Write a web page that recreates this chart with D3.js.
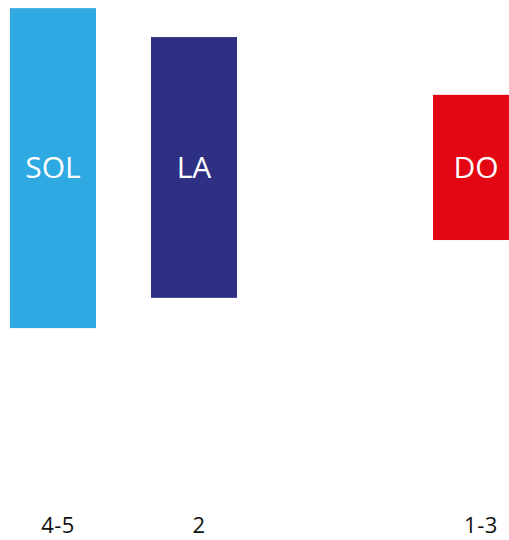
<!DOCTYPE html>
<html>
<head>
<meta charset="utf-8">
<script src="https://cdn.jsdelivr.net/npm/d3@7"></script>
<style>
  body { margin: 0; background: #fff; }
  svg { display: block; }
  .axis text { font-family: "Open Sans", sans-serif; font-size: 22px; fill: #111; }
  .barLabel { font-family: "Open Sans", sans-serif; font-size: 30px; fill: #fff; }
</style>
</head>
<body>
<svg></svg>
<script>
// categories (third slot has no bar)
var categories = ["4-5", "2", "", "1-3"]
var notes = ["SOL", "LA", "DO"]
var noteCats = ["4-5", "2", "1-3"]
var lows = [3.5, 12.4, 29.4]
var highs = [97.6, 89.1, 72.1]
var colors = ["#2ea9e1", "#2e3083", "#e30613"]

var screen = {width:509, height:540}

var svg = d3.select("svg")
    .attr("width", screen.width)
    .attr("height", screen.height)

var xScale = d3.scaleBand()
    .domain(categories)
    .range([10, 519])
    .paddingInner(0.39)
    .paddingOuter(0)

var yScale = d3.scaleLinear()
    .domain([0, 100])
    .range([340, 0])

var data = notes.map(function(n, i) {
    return {note: n, cat: noteCats[i], low: lows[i], high: highs[i], color: colors[i]}
})

var bars = svg.append("g").attr("id", "bars")
    .selectAll("g")
    .data(data)
    .enter()
    .append("g")

bars.append("rect")
    .attr("x", function(d) { return xScale(d.cat) })
    .attr("y", function(d) { return yScale(d.high) })
    .attr("width", xScale.bandwidth())
    .attr("height", function(d) { return yScale(d.low) - yScale(d.high) })
    .attr("fill", function(d) { return d.color })

// note names sit at the same height in every bar
bars.append("text")
    .attr("class", "barLabel")
    .attr("x", function(d) { return xScale(d.cat) + xScale.bandwidth() / 2 })
    .attr("y", 178)
    .attr("text-anchor", "middle")
    .text(function(d) { return d.note })

var xAxis = d3.axisBottom(xScale).tickSize(0).tickPadding(0)

var axisG = svg.append("g")
    .attr("class", "axis")
    .attr("transform", "translate(5,517)")
    .call(xAxis)

axisG.select(".domain").remove()
axisG.selectAll("text").attr("dy", "0.71em").attr("letter-spacing", "0.5px")
</script>
</body>
</html>
